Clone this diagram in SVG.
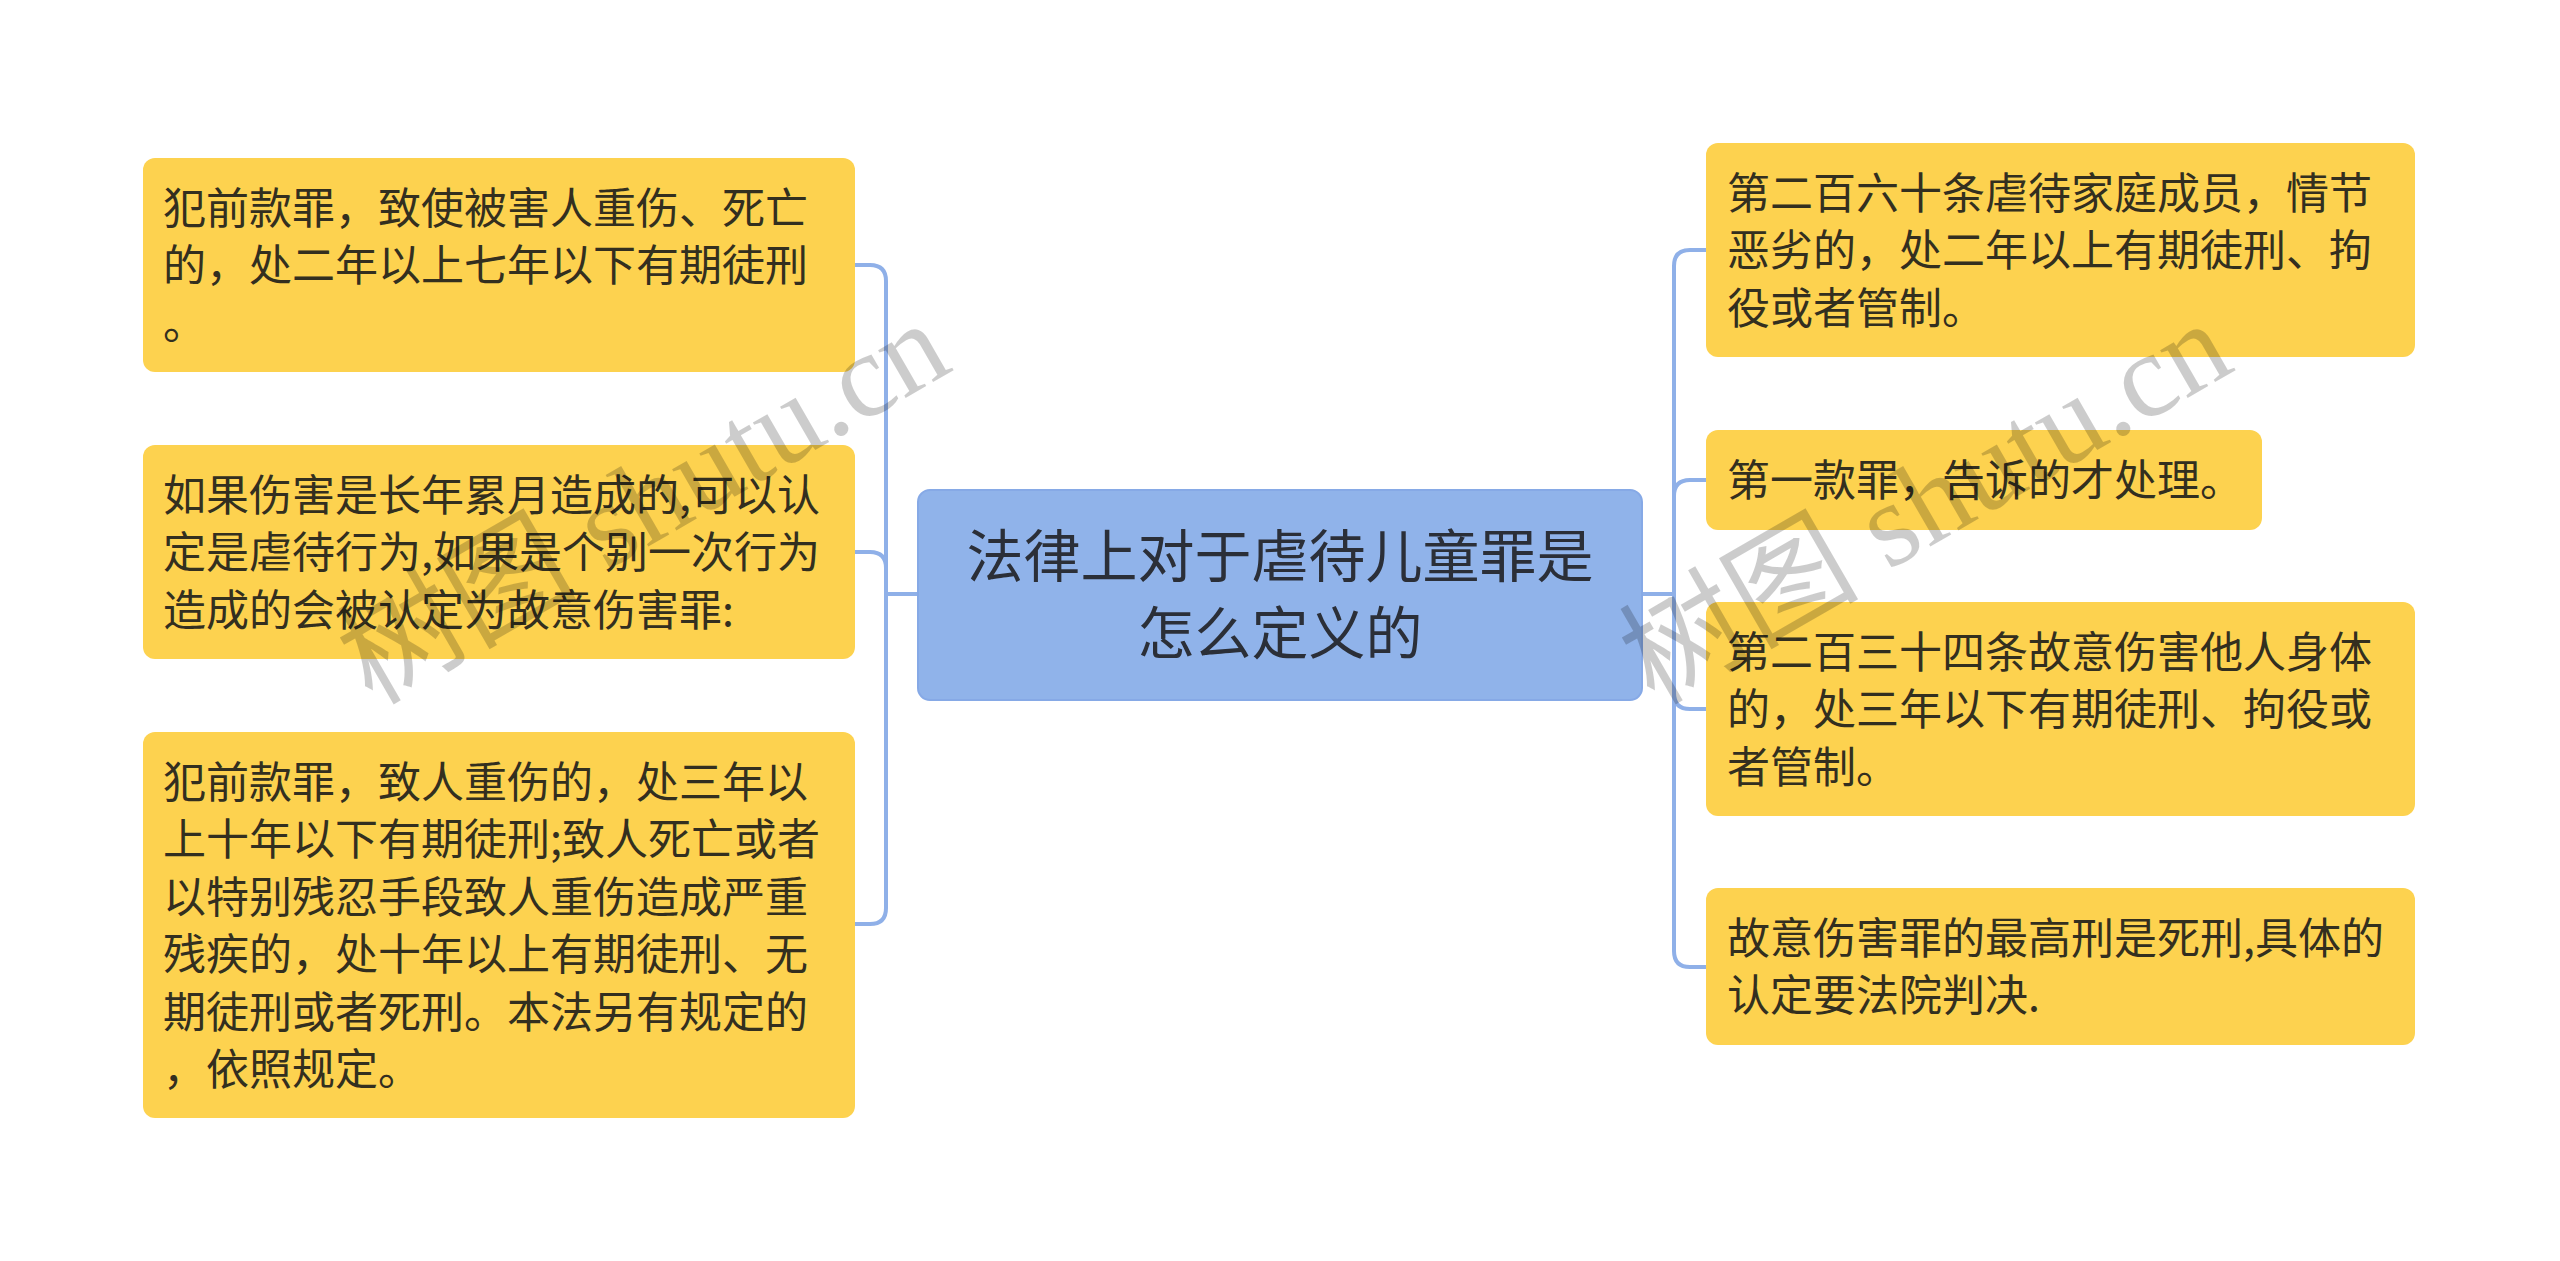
<svg xmlns="http://www.w3.org/2000/svg" width="2560" height="1261" viewBox="0 0 2560 1261">
<style>
.bg{fill:#ffffff}
.node{fill:#fdd24f}
.root{fill:#90b3ea;stroke:#86a9e6;stroke-width:2}
.t{font-family:"Noto Sans CJK SC","Noto Sans",sans-serif;font-size:43px;fill:#332f1f}
.rt{font-family:"Noto Sans CJK SC","Noto Sans",sans-serif;font-size:57px;fill:#2b2f38;text-anchor:middle}
.conn path{fill:none;stroke:#8fb0e8;stroke-width:4;stroke-linecap:round}
.wm{font-family:"Liberation Serif","Noto Sans CJK SC",serif;font-size:120px;fill:#000;fill-opacity:0.2}
</style>
<rect class="bg" x="0" y="0" width="2560" height="1261"/>
<g id="connectors" class="conn">
<path d="M918 594 H886"/>
<path d="M886 594 V281 Q886 265 870 265 H855"/>
<path d="M886 594 V568 Q886 552 870 552 H855"/>
<path d="M886 594 V908 Q886 924 870 924 H855"/>
<path d="M1642 594 H1674"/>
<path d="M1674 594 V266 Q1674 250 1690 250 H1706"/>
<path d="M1674 594 V496 Q1674 480 1690 480 H1706"/>
<path d="M1674 594 V693 Q1674 709 1690 709 H1706"/>
<path d="M1674 594 V951 Q1674 967 1690 967 H1706"/>
</g>
<g id="root">
<rect class="root" x="918" y="490" width="724" height="210" rx="12"/>
<text class="rt" x="1280" y="577">法律上对于虐待儿童罪是</text>
<text class="rt" x="1280" y="654">怎么定义的</text>
</g>
<g id="L1">
<rect class="node" x="143" y="158" width="712" height="214" rx="12"/>
<text class="t" x="163" y="224">犯前款罪，致使被害人重伤、死亡</text>
<text class="t" x="163" y="281">的，处二年以上七年以下有期徒刑</text>
<text class="t" x="163" y="339">。</text>
</g>
<g id="L2">
<rect class="node" x="143" y="445" width="712" height="214" rx="12"/>
<text class="t" x="163" y="511">如果伤害是长年累月造成的,可以认</text>
<text class="t" x="163" y="568">定是虐待行为,如果是个别一次行为</text>
<text class="t" x="163" y="626">造成的会被认定为故意伤害罪:</text>
</g>
<g id="L3">
<rect class="node" x="143" y="732" width="712" height="386" rx="12"/>
<text class="t" x="163" y="798">犯前款罪，致人重伤的，处三年以</text>
<text class="t" x="163" y="855">上十年以下有期徒刑;致人死亡或者</text>
<text class="t" x="163" y="913">以特别残忍手段致人重伤造成严重</text>
<text class="t" x="163" y="970">残疾的，处十年以上有期徒刑、无</text>
<text class="t" x="163" y="1028">期徒刑或者死刑。本法另有规定的</text>
<text class="t" x="163" y="1085">，依照规定。</text>
</g>
<g id="R1">
<rect class="node" x="1706" y="143" width="709" height="214" rx="12"/>
<text class="t" x="1727" y="209">第二百六十条虐待家庭成员，情节</text>
<text class="t" x="1727" y="266">恶劣的，处二年以上有期徒刑、拘</text>
<text class="t" x="1727" y="324">役或者管制。</text>
</g>
<g id="R2">
<rect class="node" x="1706" y="430" width="556" height="100" rx="12"/>
<text class="t" x="1727" y="496">第一款罪，告诉的才处理。</text>
</g>
<g id="R3">
<rect class="node" x="1706" y="602" width="709" height="214" rx="12"/>
<text class="t" x="1727" y="668">第二百三十四条故意伤害他人身体</text>
<text class="t" x="1727" y="725">的，处三年以下有期徒刑、拘役或</text>
<text class="t" x="1727" y="783">者管制。</text>
</g>
<g id="R4">
<rect class="node" x="1706" y="888" width="709" height="157" rx="12"/>
<text class="t" x="1727" y="954">故意伤害罪的最高刑是死刑,具体的</text>
<text class="t" x="1727" y="1011">认定要法院判决.</text>
</g>
<g id="watermarks">
<text class="wm" x="372" y="706" transform="rotate(-30 372 706)">树图 shutu.cn</text>
<text class="wm" x="1654" y="706" transform="rotate(-30 1654 706)">树图 shutu.cn</text>
</g>
</svg>
